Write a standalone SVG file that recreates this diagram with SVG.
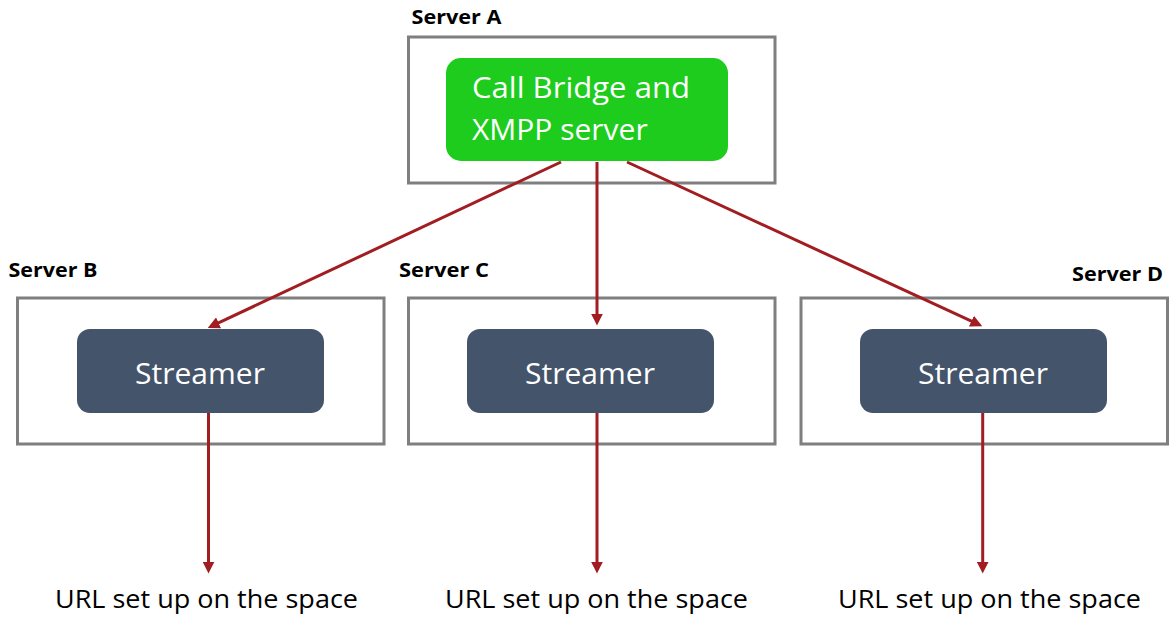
<svg xmlns="http://www.w3.org/2000/svg" width="1171" height="618" viewBox="0 0 1171 618">
  <defs>
    <style>
      .server { fill: #ffffff; stroke: #7f7f7f; stroke-width: 3; }
      .streamer { fill: #44546a; }
      .bridge { fill: #1dcc1d; }
      .slabel { font-family: "Open Sans", "Liberation Sans", sans-serif; font-weight: bold; font-size: 20px; fill: #000000; }
      .inner { font-family: "Open Sans", "Liberation Sans", sans-serif; font-size: 30px; fill: #ffffff; }
      .url { font-family: "Open Sans", "Liberation Sans", sans-serif; font-size: 26px; fill: #000000; }
      .conn { stroke: #a11d21; stroke-width: 3; fill: none; marker-end: url(#arrow); }
    </style>
    <marker id="arrow" markerUnits="userSpaceOnUse" markerWidth="12" markerHeight="12" viewBox="0 0 10 10" refX="7" refY="5" orient="auto">
      <path d="M0,0 L10,5 L0,10 z" fill="#a11d21"/>
    </marker>
  </defs>
  <rect width="1171" height="618" fill="#ffffff"/>

  <g id="serverA">
    <text class="slabel" x="411.5" y="24" textLength="90" lengthAdjust="spacingAndGlyphs">Server A</text>
    <rect class="server" x="408.5" y="37" width="366.5" height="146"/>
    <g id="callbridge">
      <rect class="bridge" x="446" y="58" width="282" height="103" rx="15"/>
      <text class="inner" x="472" y="98" textLength="218" lengthAdjust="spacingAndGlyphs">Call Bridge and</text>
      <text class="inner" x="472" y="140">XMPP server</text>
    </g>
  </g>

  <g id="serverB">
    <text class="slabel" x="8.5" y="277" textLength="89" lengthAdjust="spacingAndGlyphs">Server B</text>
    <rect class="server" x="17.5" y="298" width="366.5" height="146"/>
    <g id="streamerB">
      <rect class="streamer" x="77" y="329" width="247" height="84" rx="13"/>
      <text class="inner" x="200" y="383.5" text-anchor="middle">Streamer</text>
    </g>
  </g>

  <g id="serverC">
    <text class="slabel" x="399" y="277" textLength="90" lengthAdjust="spacingAndGlyphs">Server C</text>
    <rect class="server" x="408.5" y="298" width="366.5" height="146"/>
    <g id="streamerC">
      <rect class="streamer" x="467" y="329" width="247" height="84" rx="13"/>
      <text class="inner" x="590" y="383.5" text-anchor="middle">Streamer</text>
    </g>
  </g>

  <g id="serverD">
    <text class="slabel" x="1163" y="281" text-anchor="end" textLength="91" lengthAdjust="spacingAndGlyphs">Server D</text>
    <rect class="server" x="801" y="298" width="366.5" height="146"/>
    <g id="streamerD">
      <rect class="streamer" x="860" y="329" width="247" height="84" rx="13"/>
      <text class="inner" x="983" y="383.5" text-anchor="middle">Streamer</text>
    </g>
  </g>

  <g id="urlB"><text class="url" x="206.5" y="608" text-anchor="middle" textLength="303" lengthAdjust="spacingAndGlyphs">URL set up on the space</text></g>
  <g id="urlC"><text class="url" x="596.5" y="608" text-anchor="middle" textLength="303" lengthAdjust="spacingAndGlyphs">URL set up on the space</text></g>
  <g id="urlD"><text class="url" x="989.5" y="608" text-anchor="middle" textLength="303" lengthAdjust="spacingAndGlyphs">URL set up on the space</text></g>

  <g id="connectors">
    <line class="conn" x1="561" y1="162" x2="211" y2="326.4"/>
    <line class="conn" x1="597" y1="162" x2="597" y2="322"/>
    <line class="conn" x1="627" y1="162" x2="979" y2="324.7"/>
    <line class="conn" x1="208.5" y1="413" x2="208.5" y2="570"/>
    <line class="conn" x1="597" y1="413" x2="597" y2="570"/>
    <line class="conn" x1="982.7" y1="413" x2="982.7" y2="570"/>
  </g>
</svg>
